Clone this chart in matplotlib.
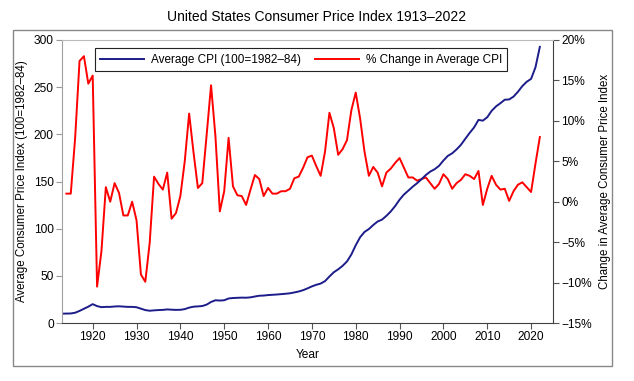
import matplotlib
matplotlib.use("Agg")
import matplotlib.pyplot as plt
from matplotlib.patches import Rectangle
from matplotlib.ticker import FuncFormatter

years = list(range(1913, 2023))
cpi = [9.9, 10.0, 10.1, 10.9, 12.8, 15.1, 17.3, 20.0, 17.9, 16.8,
       17.1, 17.1, 17.5, 17.7, 17.4, 17.1, 17.1, 16.7, 15.2, 13.7,
       13.0, 13.4, 13.7, 13.9, 14.4, 14.1, 13.9, 14.0, 14.7, 16.3,
       17.3, 17.6, 18.0, 19.5, 22.3, 24.1, 23.8, 24.1, 26.0, 26.5,
       26.7, 26.9, 26.8, 27.2, 28.1, 28.9, 29.1, 29.6, 29.9, 30.2,
       30.6, 31.0, 31.5, 32.4, 33.4, 34.8, 36.7, 38.8, 40.5, 41.8,
       44.4, 49.3, 53.8, 56.9, 60.6, 65.2, 72.6, 82.4, 90.9, 96.5,
       99.6, 103.9, 107.6, 109.6, 113.6, 118.3, 124.0, 130.7, 136.2, 140.3,
       144.5, 148.2, 152.4, 156.9, 160.5, 163.0, 166.6, 172.2, 177.1, 179.9,
       184.0, 188.9, 195.3, 201.6, 207.3, 215.3, 214.5, 218.1, 224.9, 229.6,
       233.0, 236.7, 237.0, 240.0, 245.1, 251.1, 255.7, 258.8, 271.0, 292.7]

pct_years = list(range(1914, 2023))
pct = [1.0, 1.0, 7.9, 17.4, 18.0, 14.6, 15.6, -10.5, -6.1,
       1.8, 0.0, 2.3, 1.1, -1.7, -1.7, 0.0, -2.3, -9.0, -9.9,
       -5.1, 3.1, 2.2, 1.5, 3.6, -2.1, -1.4, 0.7, 5.0, 10.9,
       6.1, 1.7, 2.3, 8.3, 14.4, 8.1, -1.2, 1.3, 7.9, 1.9,
       0.8, 0.7, -0.4, 1.5, 3.3, 2.8, 0.7, 1.7, 1.0, 1.0,
       1.3, 1.3, 1.6, 2.9, 3.1, 4.2, 5.5, 5.7, 4.4, 3.2,
       6.2, 11.0, 9.1, 5.8, 6.5, 7.6, 11.3, 13.5, 10.3, 6.2,
       3.2, 4.3, 3.6, 1.9, 3.6, 4.1, 4.8, 5.4, 4.2, 3.0,
       3.0, 2.6, 2.8, 3.0, 2.3, 1.6, 2.2, 3.4, 2.8, 1.6,
       2.3, 2.7, 3.4, 3.2, 2.8, 3.8, -0.4, 1.6, 3.2, 2.1,
       1.5, 1.6, 0.1, 1.3, 2.1, 2.4, 1.8, 1.2, 4.7, 8.0]

left_ticks = [0, 50, 100, 150, 200, 250, 300]
right_ticks = [-15, -10, -5, 0, 5, 10, 15, 20]
x_ticks = [1920, 1930, 1940, 1950, 1960, 1970, 1980, 1990, 2000, 2010, 2020]

plt.rcParams['font.family'] = ['Liberation Sans', 'DejaVu Sans']

fig = plt.figure(figsize=(6.34, 3.81), dpi=100)
fig.patches.append(Rectangle((13 / 634, 1 - 366 / 381), (612 - 13) / 634, (366 - 30) / 381,
                             transform=fig.transFigure, fill=False,
                             edgecolor='#888888', linewidth=1.0))
ax1 = fig.add_axes([62 / 634, 1 - 323 / 381, (553 - 62) / 634, (323 - 40) / 381])
ax2 = ax1.twinx()

blue = '#1c1c8a'
red = '#ff0000'

l2, = ax2.plot(pct_years, pct, color=red, lw=1.4, label='% Change in Average CPI')
l1, = ax1.plot(years, cpi, color=blue, lw=1.4, label='Average CPI (100=1982\u201384)')
ax1.set_zorder(ax2.get_zorder() + 1)
ax1.patch.set_visible(False)

ax1.set_xlim(1913, 2025)
ax1.set_ylim(0, 300)
ax2.set_ylim(-15, 20)
ax1.set_yticks(left_ticks)
ax2.set_yticks(right_ticks)
ax1.set_xticks(x_ticks)
ax2.yaxis.set_major_formatter(FuncFormatter(lambda v, p: f"{int(v)}%".replace('-', '\u2212')))

for ax in (ax1, ax2):
    ax.tick_params(labelsize=8.6, length=4, width=0.8, color='#555555', pad=2)
    for s in ax.spines.values():
        s.set_visible(False)

ax1.spines['left'].set_visible(True)
ax1.spines['left'].set_color('#a0a0a0')
ax1.spines['top'].set_visible(True)
ax1.spines['top'].set_color('#bbbbbb')
ax1.spines['bottom'].set_visible(True)
ax1.spines['bottom'].set_color('#404040')
ax2.spines['right'].set_visible(True)
ax2.spines['right'].set_color('#404040')
ax1.tick_params(axis='y', color='#999999')

ax1.set_xlabel('Year', fontsize=8.6, labelpad=4)
ax1.set_ylabel('Average Consumer Price Index (100=1982\u201384)', fontsize=8.3, labelpad=4)
ax2.set_ylabel('Change in Average Consumer Price Index', fontsize=8.3, labelpad=5)
fig.text(0.5, 1 - 17 / 381, 'United States Consumer Price Index 1913\u20132022',
         ha='center', va='center', fontsize=10)

leg = ax1.legend(handles=[l1, l2], loc='upper left', bbox_to_anchor=(0.067, 0.97),
                 ncol=2, fontsize=8.5, frameon=True, fancybox=False, framealpha=1,
                 edgecolor='#222222', handlelength=3.7, columnspacing=1.2,
                 borderpad=0.45, handletextpad=0.6, borderaxespad=0)
leg.get_frame().set_linewidth(0.8)

fig.savefig('out.png', dpi=100)
